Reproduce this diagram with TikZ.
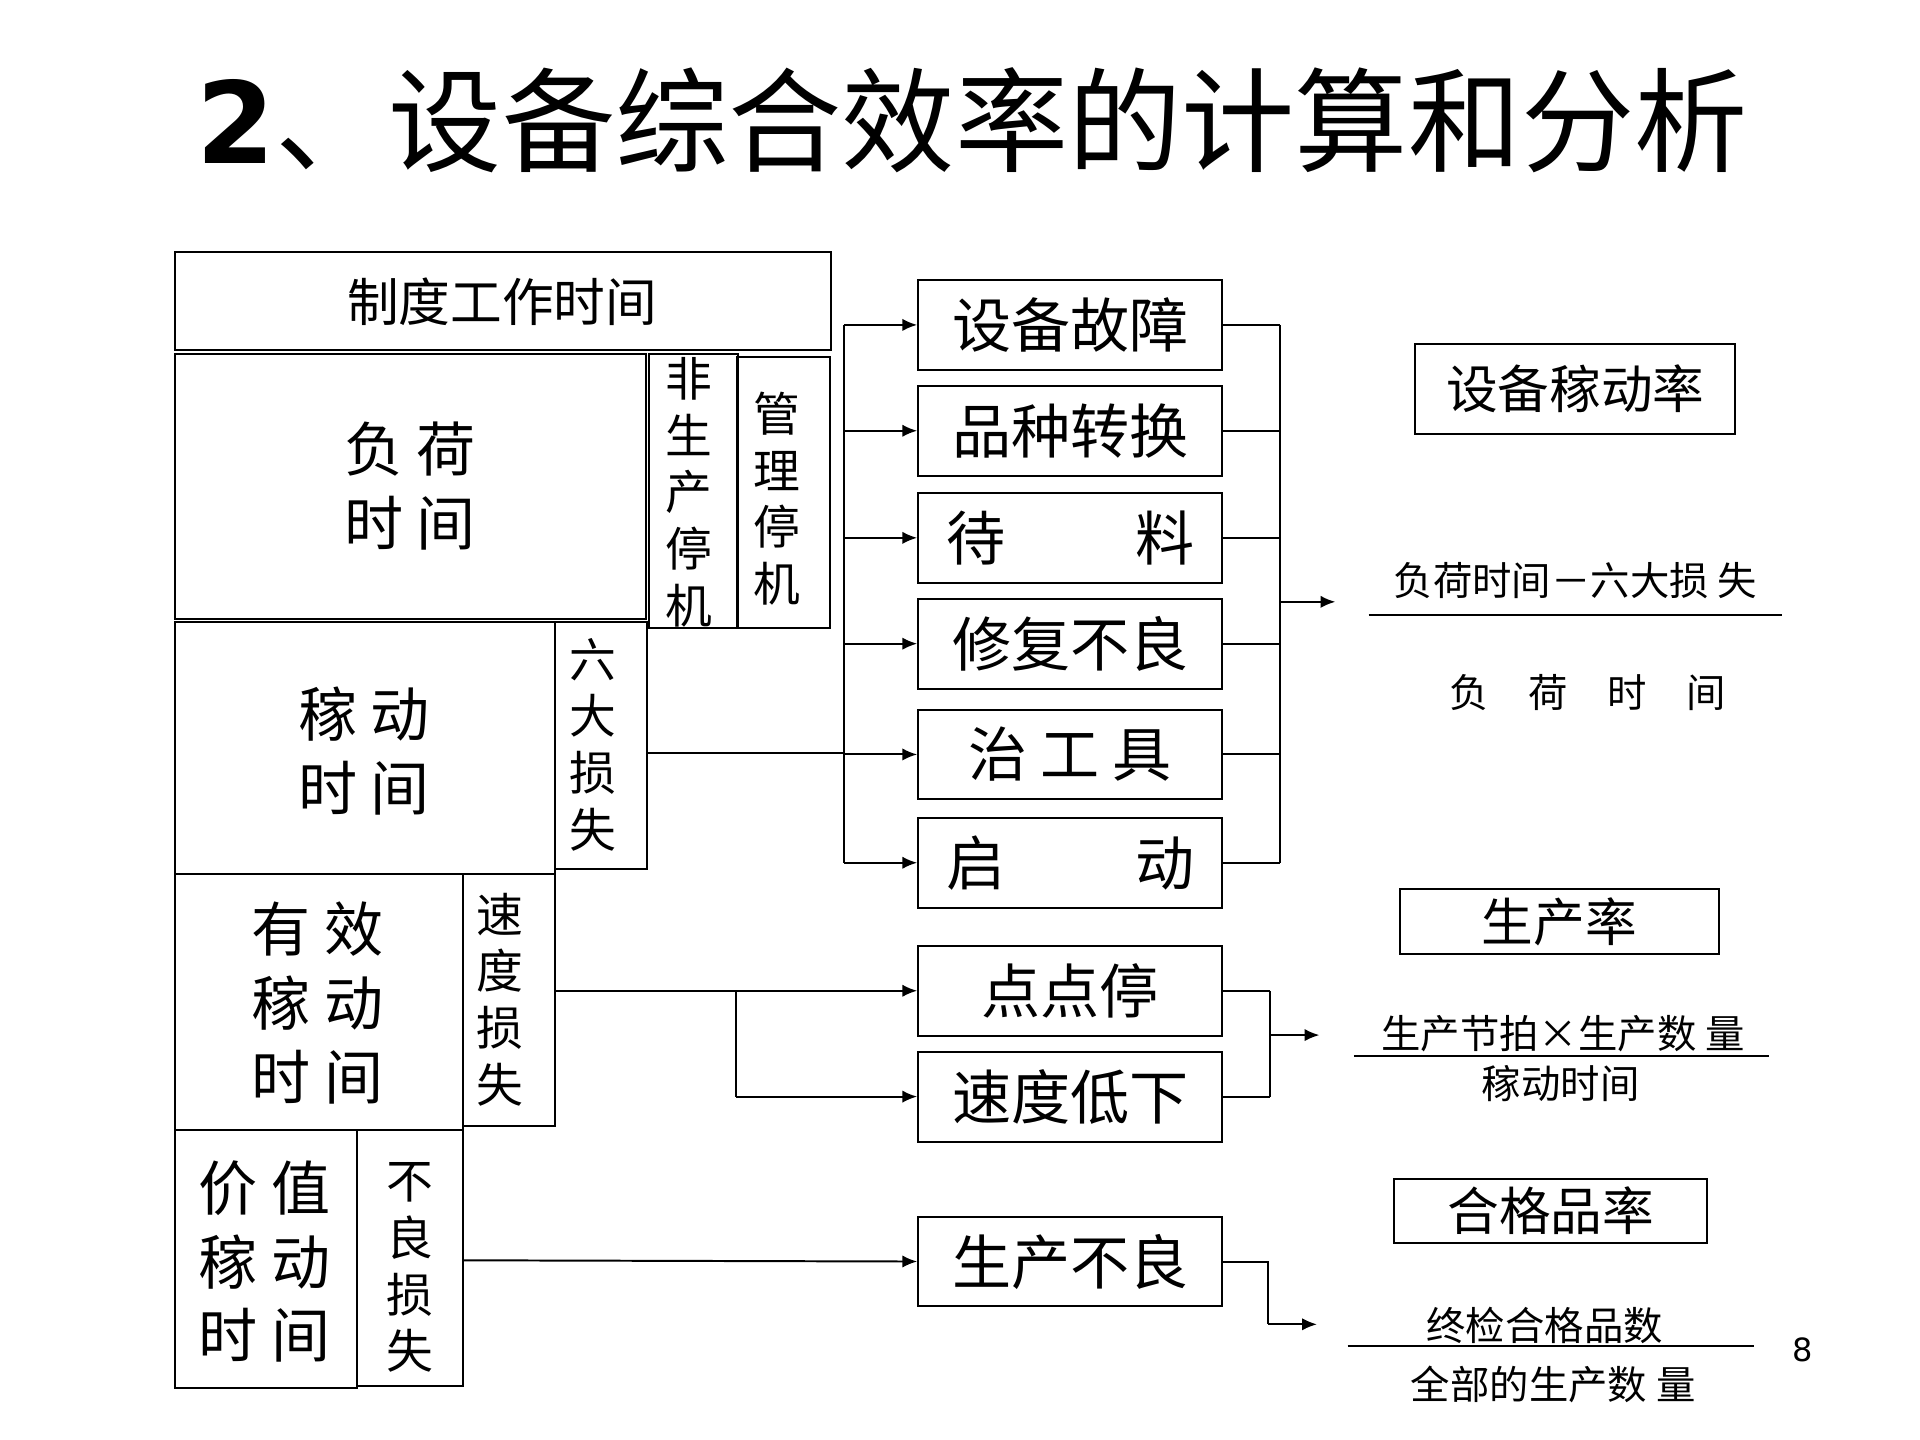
\documentclass[tikz,border=0pt]{standalone}
\usepackage{fontspec}
\setmainfont{Noto Sans CJK SC}
\setsansfont{DejaVu Sans}
\usetikzlibrary{arrows.meta}
\begin{document}
\begin{tikzpicture}[x=0.5pt,y=-0.5pt,
  bx/.style={draw,line width=0.8pt,inner sep=0pt},
  ln/.style={line width=0.8pt},
  ar/.style={line width=0.8pt,-{Latex[length=6pt,width=5pt]}},
  big/.style={font=\fontsize{24}{30}\selectfont},
  mid/.style={font=\fontsize{21}{29}\selectfont},
  vt/.style={font=\fontsize{19}{23}\selectfont,align=center},
  sm/.style={font=\fontsize{16}{20}\selectfont}]
\useasboundingbox (0,0) rectangle (1560,1170);
\node[font=\fontsize{46}{50}\selectfont] (title) at (790,98) {{\sffamily\bfseries 2}、设备综合效率的计算和分析};
% left stack
\draw[bx] (142,205) rectangle (675,284); \node[mid] (zd) at (408,245) {制度工作时间};
\draw[bx] (142,288) rectangle (525,503); \node[big,align=left] (fh) at (333,395) {负\ 荷\\时\ 间};
\draw[bx] (527,288) rectangle (600,510); \node[vt] (fs) at (560,400) {非\\生\\产\\停\\机};
\draw[bx] (599,290) rectangle (674,510); \node[vt] (gl) at (631,405) {管\\理\\停\\机};
\draw[bx] (142,505) rectangle (451,710); \node[big,align=left] (jd) at (296,610) {稼\ 动\\时\ 间};
\draw[bx] (451,505) rectangle (526,706); \node[vt] (ld) at (482,605) {六\\大\\损\\失};
\coordinate (ldR) at (526,612);
\draw[bx] (142,710) rectangle (376,918); \node[big,align=left] (yx) at (258,815) {有\ 效\\稼\ 动\\时\ 间};
\draw[bx] (376,710) rectangle (451,915); \node[vt] (sd) at (406,812) {速\\度\\损\\失};
\coordinate (sdR) at (451,805);
\draw[bx] (142,918) rectangle (290,1128); \node[big,align=left] (jz) at (215,1025) {价\ 值\\稼\ 动\\时\ 间};
\draw[bx] (290,918) rectangle (376,1126); \node[vt] (bl) at (333,1030) {不\\良\\损\\失};
\coordinate (blR) at (376,1024);
% right boxes
\foreach \n/\y/\t in {a/264/设备故障,b/350/品种转换,c/437/待\hspace{2.2em}料,d/523/修复不良,e/613/治\ 工\ 具,f/701/启\hspace{2.2em}动,g/805/点点停,h/891/速度低下,i/1025/生产不良}{
  \node[bx,big,minimum width=123.5pt,minimum height=36.5pt] (\n) at (869.5,\y) {\t};
}
% left connectors
\coordinate (bus1) at (686,612);
\draw[ln] (ldR) -- (bus1);
\draw[ln] (686,264) -- (686,701);
\foreach \n in {a,b,c,d,e,f} \draw[ar] (686,0 |- \n.west) -- (\n.west);
\draw[ar] (sdR) -- (g.west);
\draw[ln] (598,805) -- (598,891);
\draw[ar] (598,891) -- (h.west);
\draw[ar] (blR) -- (i.west);
% right connectors
\foreach \n in {a,b,c,d,e,f} \draw[ln] (\n.east) -- (1040,0 |- \n.east);
\draw[ln] (1040,264) -- (1040,701);
\coordinate (f1) at (1085,489);
\draw[ar] (1040,489) -- (f1);
\foreach \n in {g,h} \draw[ln] (\n.east) -- (1032,0 |- \n.east);
\draw[ln] (1032,805) -- (1032,891);
\coordinate (f2) at (1072,841);
\draw[ar] (1032,841) -- (f2);
\coordinate (f3) at (1070,1076);
\draw[ln] (i.east) -- (1030,1025) -- (1030,1076);
\draw[ar] (1030,1076) -- (f3);
% formulas
\node[bx,mid,minimum width=130pt,minimum height=36.5pt] (r1) at (1280,316) {设备稼动率};
\node[sm] (n1) at (1280,472) {负荷时间－六大损\ 失};
\draw[ln] (1112,500) -- (1448,500);
\node[sm] (d1) at (1290,563) {负\quad 荷\quad 时\quad 间};
\node[bx,mid,minimum width=129.5pt,minimum height=26.5pt] (r2) at (1267,749) {生产率};
\node[sm] (n2) at (1270,840) {生产节拍×生产数\ 量};
\draw[ln] (1100,858) -- (1437,858);
\node[sm] (d2) at (1268,880) {稼动时间};
\node[bx,mid,minimum width=127pt,minimum height=26pt] (r3) at (1260,984) {合格品率};
\node[sm] (n3) at (1255,1077) {终检合格品数};
\draw[ln] (1095,1094) -- (1425,1094);
\node[sm] (d3) at (1262,1125) {全部的生产数\ 量};
\node[font=\sffamily\fontsize{13}{15}\selectfont] (pg) at (1465,1097) {8};
\end{tikzpicture}
\end{document}
